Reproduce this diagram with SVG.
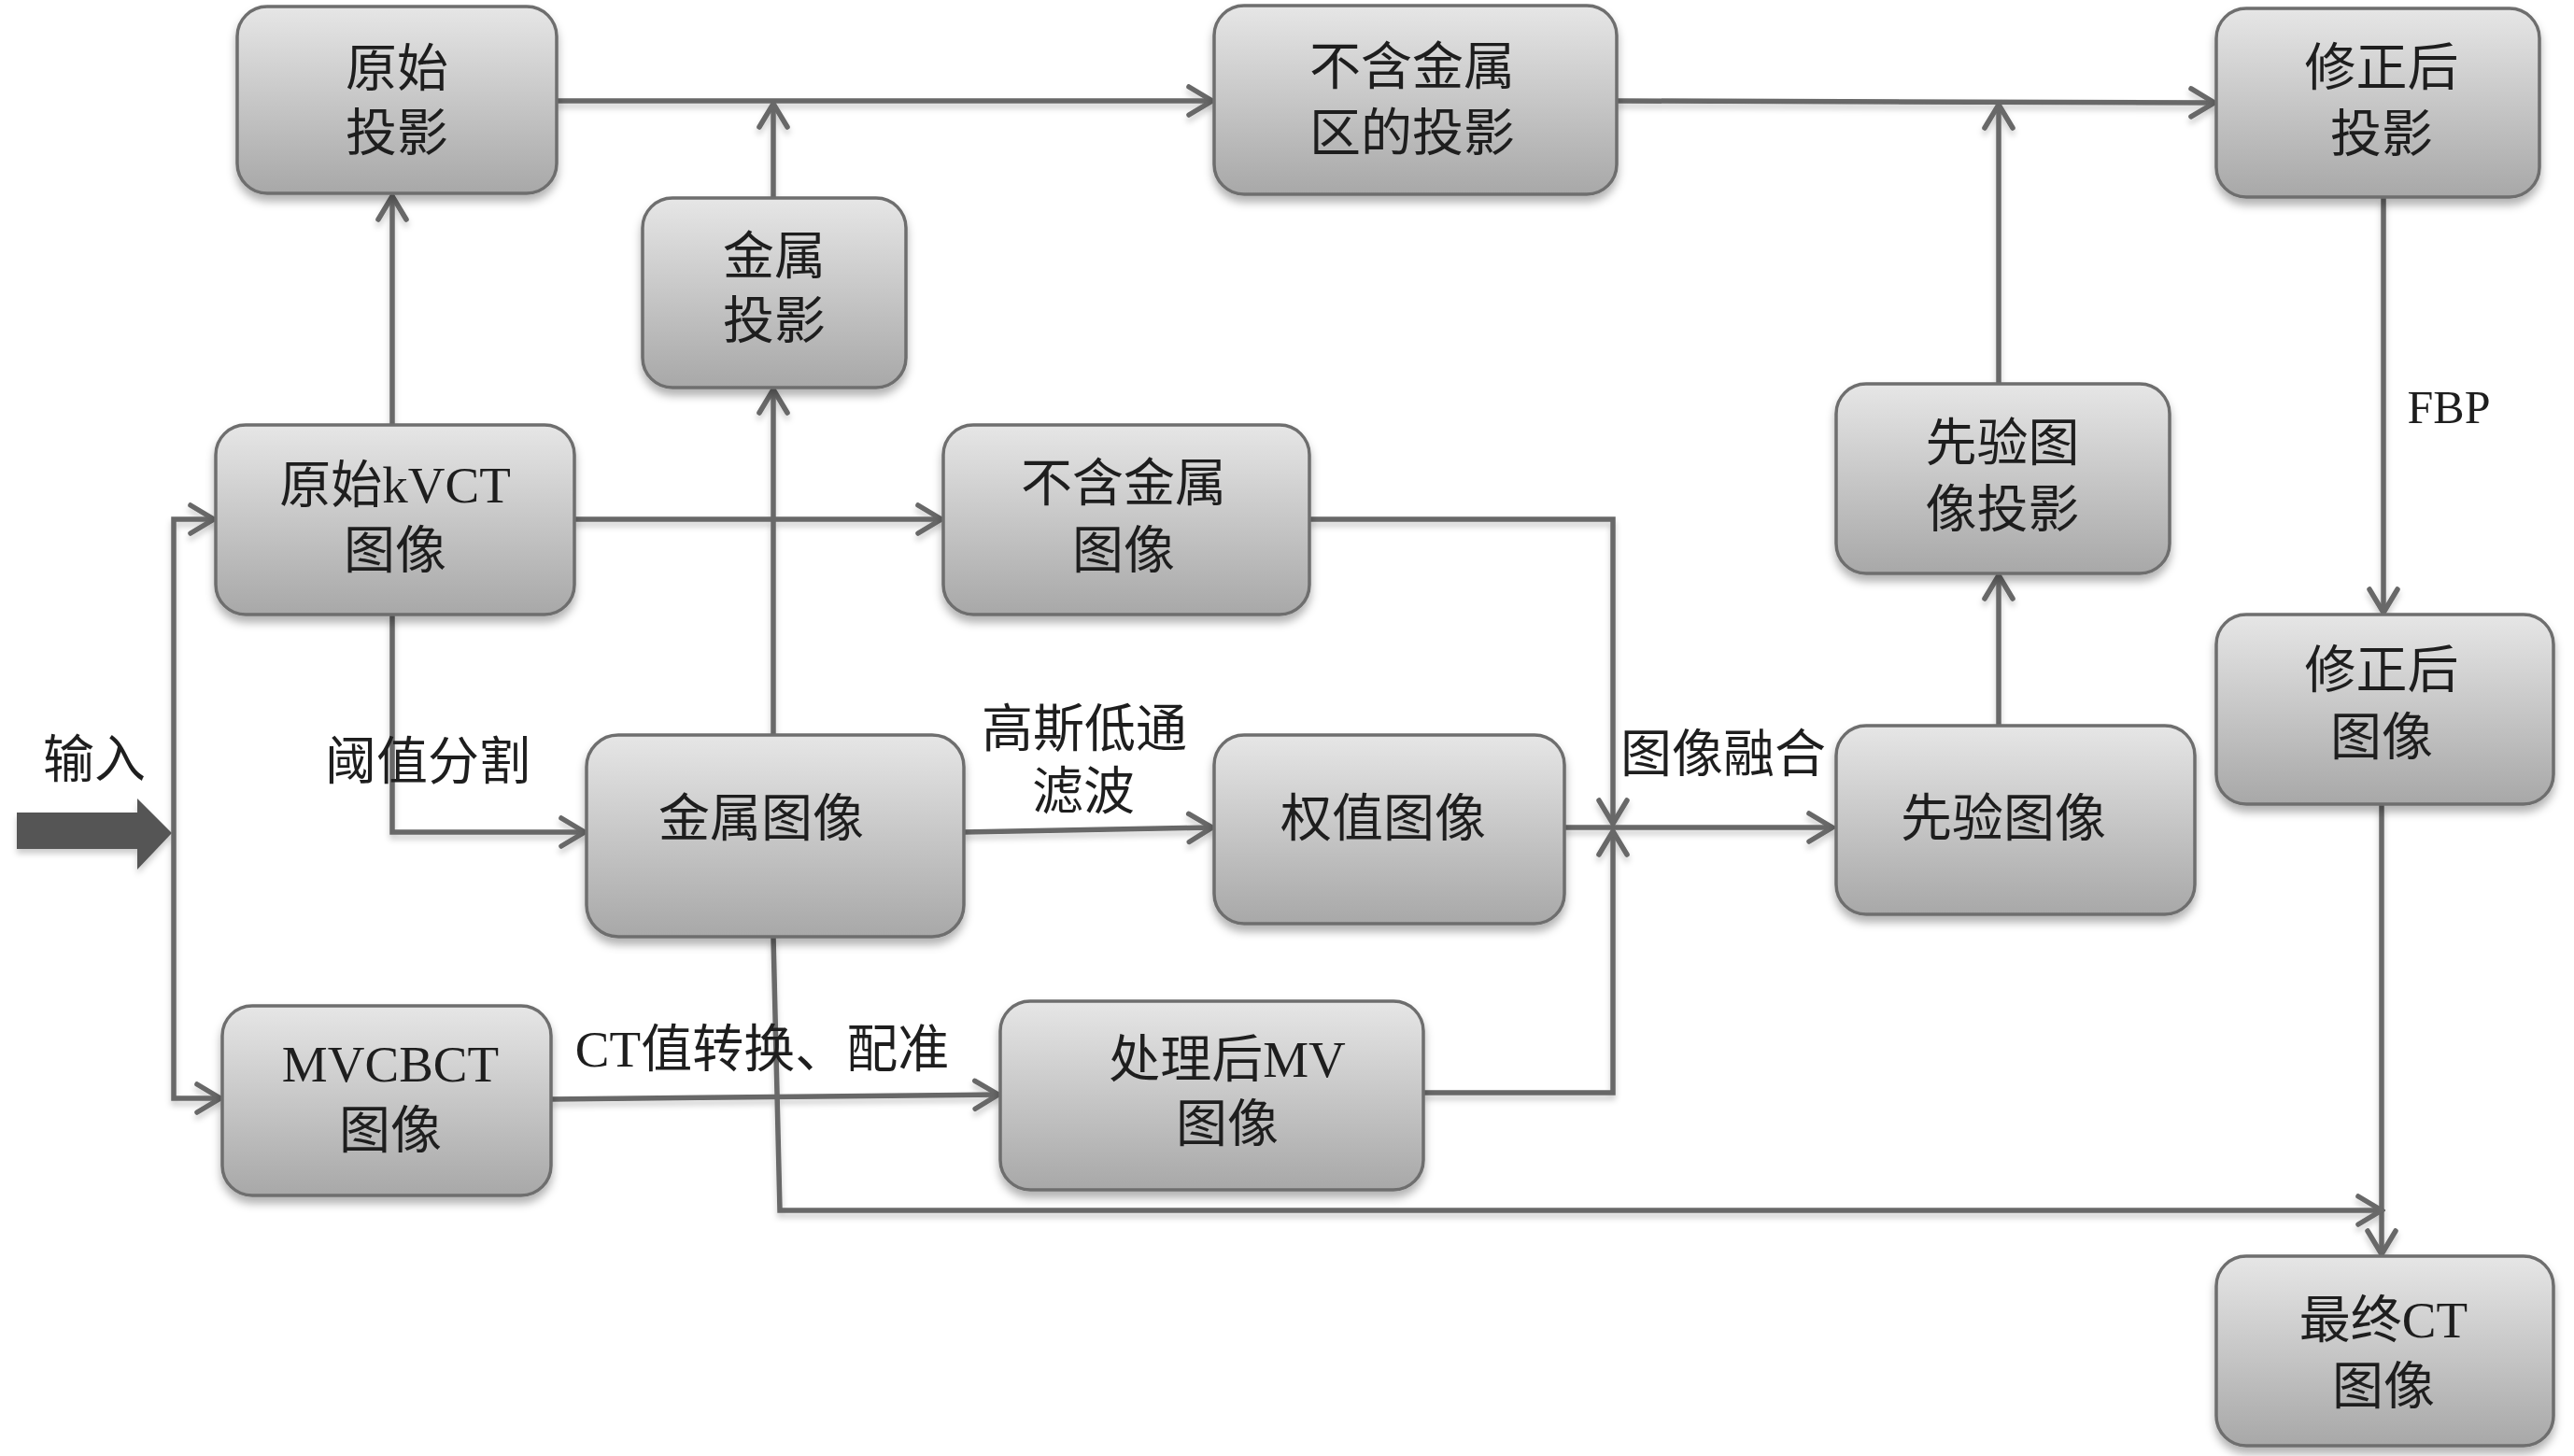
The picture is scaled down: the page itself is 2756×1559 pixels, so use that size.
<svg xmlns="http://www.w3.org/2000/svg" width="2756" height="1559" viewBox="0 0 2756 1559">
<defs>
<linearGradient id="g" x1="0" y1="0" x2="0" y2="1">
<stop offset="0" stop-color="#e6e6e6"/>
<stop offset="1" stop-color="#a8a8a8"/>
</linearGradient>
<filter id="sh" x="-10%" y="-10%" width="120%" height="130%">
<feDropShadow dx="0" dy="7" stdDeviation="5" flood-color="#000" flood-opacity="0.3"/>
</filter>
<filter id="lsh" x="-5%" y="-5%" width="110%" height="110%">
<feDropShadow dx="0" dy="5" stdDeviation="3" flood-color="#000" flood-opacity="0.2"/>
</filter>
<marker id="ah" markerUnits="userSpaceOnUse" viewBox="-30 -20 34 40" refX="0" refY="0" markerWidth="34" markerHeight="40" orient="auto">
<path d="M-25,-15 L0,0 L-25,15" fill="none" stroke="#676767" stroke-width="5.5" stroke-linecap="round" stroke-linejoin="miter"/>
</marker>
</defs>
<style>
.box{fill:url(#g);stroke:#6e6e6e;stroke-width:3.5}
.t{font-family:"Liberation Serif","Noto Sans CJK SC",serif;font-size:55px;fill:#1e1e1e;text-anchor:middle}
.c{fill:none;stroke:#676767;stroke-width:5.5;marker-end:url(#ah)}
.n{fill:none;stroke:#676767;stroke-width:5.5}
</style>
<rect width="2756" height="1559" fill="#fff"/>

<g id="connectors" filter="url(#lsh)">
<polygon points="18,870 147,870 147,855 184,892 147,931 147,909 18,909" fill="#555"/>
<path class="c" d="M186 892 V556 H229"/>
<path class="c" d="M186 892 V1176 H236"/>
<path class="c" d="M420 455 V210"/>
<path class="c" d="M596 108 H1298"/>
<path class="c" d="M828 212 V111"/>
<path class="c" d="M828 787 V417"/>
<path class="c" d="M615 556 H1008"/>
<path class="c" d="M420 658 V891 H626"/>
<path class="c" d="M1402 556 H1727 V882"/>
<path class="c" d="M1524 1170 H1727 V890"/>
<path class="c" d="M1675 886 H1962"/>
<path class="c" d="M1032 891 L1298 886"/>
<path class="c" d="M590 1177 L1069 1172"/>
<path class="c" d="M2140 777 V616"/>
<path class="c" d="M2140 411 V112"/>
<path class="c" d="M1731 108 L2371 110"/>
<path class="c" d="M2552 211 V656"/>
<path class="c" d="M2550 861 V1343"/>
<path class="c" d="M828 1003 L835 1296 H2550"/>
</g>

<g id="n1" filter="url(#sh)"><rect class="box" x="254" y="7" width="342" height="200" rx="32"/></g>
<g id="n1t"><text class="t" x="425" y="92">原始</text><text class="t" x="425" y="161">投影</text></g>

<g id="n2" filter="url(#sh)"><rect class="box" x="688" y="212" width="282" height="203" rx="32"/></g>
<g id="n2t"><text class="t" x="829" y="293">金属</text><text class="t" x="829" y="362">投影</text></g>

<g id="n3" filter="url(#sh)"><rect class="box" x="231" y="455" width="384" height="203" rx="32"/></g>
<g id="n3t"><text class="t" x="423" y="538">原始kVCT</text><text class="t" x="423" y="608">图像</text></g>

<g id="n4" filter="url(#sh)"><rect class="box" x="628" y="787" width="404" height="216" rx="34"/></g>
<g id="n4t"><text class="t" x="815" y="895">金属图像</text></g>

<g id="n5" filter="url(#sh)"><rect class="box" x="238" y="1077" width="352" height="203" rx="32"/></g>
<g id="n5t"><text class="t" x="418" y="1158">MVCBCT</text><text class="t" x="418" y="1229">图像</text></g>

<g id="n6" filter="url(#sh)"><rect class="box" x="1300" y="6" width="431" height="202" rx="32"/></g>
<g id="n6t"><text class="t" x="1512" y="90">不含金属</text><text class="t" x="1512" y="161">区的投影</text></g>

<g id="n7" filter="url(#sh)"><rect class="box" x="1010" y="455" width="392" height="203" rx="32"/></g>
<g id="n7t"><text class="t" x="1203" y="536">不含金属</text><text class="t" x="1203" y="608">图像</text></g>

<g id="n8" filter="url(#sh)"><rect class="box" x="1300" y="787" width="375" height="202" rx="32"/></g>
<g id="n8t"><text class="t" x="1481" y="895">权值图像</text></g>

<g id="n9" filter="url(#sh)"><rect class="box" x="1071" y="1072" width="453" height="202" rx="32"/></g>
<g id="n9t"><text class="t" x="1314" y="1153">处理后MV</text><text class="t" x="1314" y="1222">图像</text></g>

<g id="n10" filter="url(#sh)"><rect class="box" x="1966" y="777" width="384" height="202" rx="32"/></g>
<g id="n10t"><text class="t" x="2145" y="895">先验图像</text></g>

<g id="n11" filter="url(#sh)"><rect class="box" x="1966" y="411" width="357" height="203" rx="32"/></g>
<g id="n11t"><text class="t" x="2144" y="493">先验图</text><text class="t" x="2144" y="564">像投影</text></g>

<g id="n12" filter="url(#sh)"><rect class="box" x="2373" y="9" width="346" height="202" rx="32"/></g>
<g id="n12t"><text class="t" x="2550" y="91">修正后</text><text class="t" x="2550" y="162">投影</text></g>

<g id="n13" filter="url(#sh)"><rect class="box" x="2373" y="658" width="361" height="203" rx="32"/></g>
<g id="n13t"><text class="t" x="2550" y="736">修正后</text><text class="t" x="2550" y="808">图像</text></g>

<g id="n14" filter="url(#sh)"><rect class="box" x="2373" y="1345" width="361" height="203" rx="32"/></g>
<g id="n14t"><text class="t" x="2552" y="1432">最终CT</text><text class="t" x="2552" y="1503">图像</text></g>

<g id="labels">
<text class="t" x="101" y="832">输入</text>
<text class="t" x="458" y="834">阈值分割</text>
<text class="t" x="1161" y="799">高斯低通</text>
<text class="t" x="1160" y="866">滤波</text>
<text class="t" x="816" y="1142">CT值转换、配准</text>
<text class="t" x="1845" y="826">图像融合</text>
<text class="t" x="2622" y="453" style="font-size:50px">FBP</text>
</g>
</svg>
